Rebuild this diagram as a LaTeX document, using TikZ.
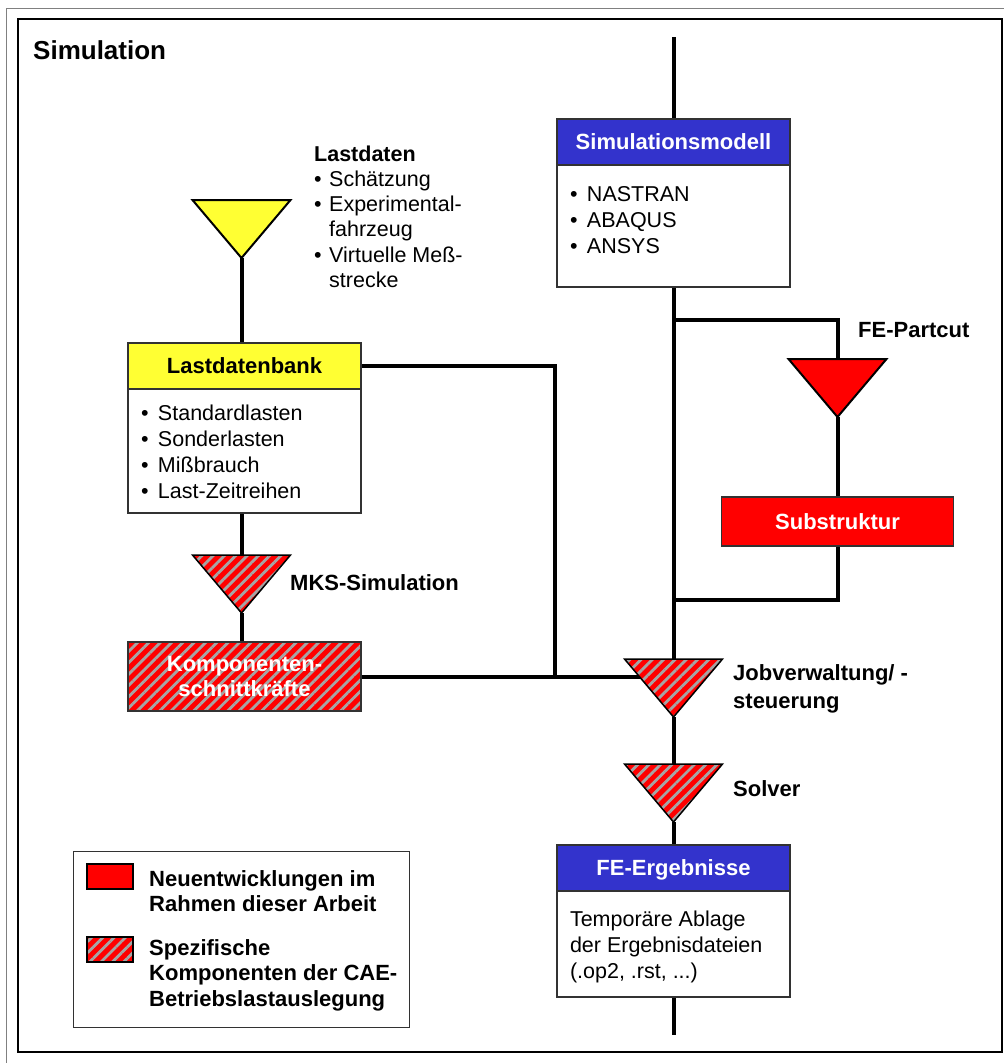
\documentclass[tikz,border=0pt]{standalone}
\usepackage{fontspec}
\setmainfont{Liberation Sans}
\usetikzlibrary{shapes.geometric,patterns.meta,backgrounds,positioning}

\definecolor{headblue}{RGB}{51,51,204}
\definecolor{lastyellow}{RGB}{255,255,51}
\definecolor{stripegray}{RGB}{165,165,165}
\definecolor{boxgray}{RGB}{50,50,50}
\definecolor{framegray}{RGB}{128,128,128}

\newcommand\txtfont{\fontsize{21.5}{26}\selectfont}
\newcommand\lblfont{\bfseries\fontsize{22}{25.5}\selectfont}
\newcommand\itm[2][17pt]{\makebox[#1][l]{\textbullet}#2}
\newcommand\bodytxt[3]{\parbox[c][#1][t]{233pt}{\leftskip=13pt\rule{0pt}{#2}#3}}

\tikzset{
  conn/.style={line width=4pt},
  plainbox/.style={draw=boxgray, line width=1.5pt, inner sep=0pt, outer sep=0pt},
  head/.style={plainbox, minimum width=233pt, minimum height=46pt, font=\lblfont, text height=15.5pt, text depth=0pt},
  body/.style={plainbox, fill=white, font=\txtfont},
  tri/.style={isosceles triangle, shape border rotate=-90, isosceles triangle stretches, minimum width=98pt, minimum height=58pt, inner sep=0pt, outer sep=0pt, draw=black, line width=2pt},
  hatch/.style={preaction={fill=red}, pattern={Lines[angle=45,distance=8pt,line width=2.8pt]}, pattern color=stripegray},
  swatch/.style={draw=black, line width=1.2pt, minimum width=46pt, minimum height=25pt, inner sep=0pt},
  lbl/.style={font=\lblfont, inner sep=0pt, align=left}
}

\begin{document}
\begin{tikzpicture}[x=1pt,y=-1pt]
\useasboundingbox (0,0) rectangle (1004,1063);
% frame
\draw[framegray, line width=1pt] (6,1063) -- (6,8) -- (1004,8);
\draw[line width=2pt] (18,19) rectangle (1002,1052);
\node[lbl, font=\bfseries\fontsize{26}{30}\selectfont, anchor=base west] (title) at (33,59.5) {Simulation};

% FE column
\coordinate (topend) at (673.5,37);
\coordinate (br1) at (673.5,320);
\coordinate (br2) at (673.5,600);
\coordinate (botend) at (673.5,1035);
\node[head, fill=headblue, text=white] (simhead) at (673.5,142) {Simulationsmodell};
\node[body, below=0pt of simhead] (simbody) {\bodytxt{122pt}{36pt}{\itm{NASTRAN}\\ \itm{ABAQUS}\\ \itm{ANSYS}}};

\node[tri, fill=red, anchor=apex] (partcut) at (837.5,417) {};
\node[lbl, anchor=base west] (partcutlbl) at (858,337.3) {FE-Partcut};
\node[plainbox, fill=red, minimum width=232pt, minimum height=49pt, text=white, font=\lblfont] (subst) at (837.5,521.5) {Substruktur};

\node[tri, hatch, line width=1.5pt, anchor=apex] (jobtri) at (673.5,717) {};
\node[lbl, anchor=north west, font=\bfseries\fontsize{22}{28}\selectfont] (joblbl) at (733,664) {Jobverwaltung/ -\\steuerung};
\node[tri, hatch, line width=1.5pt, anchor=apex] (solvtri) at (673.5,822) {};
\node[lbl, anchor=base west] (solvlbl) at (733,796.7) {Solver};

\node[head, fill=headblue, text=white] (ergebhead) at (673.5,868) {FE-Ergebnisse};
\node[body, below=0pt of ergebhead] (ergebbody) {\bodytxt{106pt}{35pt}{Temporäre Ablage\\ der Ergebnisdateien\\ (.op2, .rst, ...)}};

% load data column
\node[tri, fill=lastyellow, anchor=apex] (lasttri) at (241.5,258) {};
\node[anchor=north west, align=left, inner sep=0pt, font=\fontsize{21.5}{25.3}\selectfont] (lastlbl) at (314,145.3)
  {\textbf{Lastdaten}\\ \itm[15pt]{Schätzung}\\ \itm[15pt]{Experimental-}\\ \hspace*{15pt}fahrzeug\\ \itm[15pt]{Virtuelle Meß-}\\ \hspace*{15pt}strecke};
\node[head, fill=lastyellow] (lasthead) at (244.5,366) {Lastdatenbank};
\node[body, below=0pt of lasthead] (lastbody) {\bodytxt{124pt}{31pt}{\itm{Standardlasten}\\ \itm{Sonderlasten}\\ \itm{Mißbrauch}\\ \itm{Last-Zeitreihen}}};
\node[tri, hatch, line width=1.5pt, anchor=apex] (mkstri) at (241.5,613) {};
\node[lbl, anchor=base west] (mkslbl) at (290,590) {MKS-Simulation};
\node[plainbox, hatch, minimum width=233pt, minimum height=69pt, text=white, font=\lblfont, align=center] (komp) at (244.5,676.5) {Komponenten-\\schnittkräfte};
\coordinate (junc) at (555,676.5);

% legend
\node[plainbox, minimum width=336pt, minimum height=176pt, anchor=north west] (legend) at (73.5,851.5) {};
\node[swatch, fill=red] (legnew) at (110,876.5) {};
\node[swatch, hatch] (legspec) at (110,949.5) {};
\node[lbl, anchor=north west] (legnewlbl) at (149,870) {Neuentwicklungen im\\Rahmen dieser Arbeit};
\node[lbl, anchor=north west] (legspeclbl) at (149,939) {Spezifische\\Komponenten der CAE-\\Betriebslastauslegung};

\begin{scope}[on background layer]
  \draw[conn] (topend) -- (simhead.north);
  \draw[conn] (simbody.south) -- (jobtri.north);
  \draw[conn] (br1) -| (partcut.north);
  \draw[conn] (partcut.apex) -- (subst.north);
  \draw[conn] (subst.south) |- (br2);
  \draw[conn] (jobtri.apex) -- (solvtri.north);
  \draw[conn] (solvtri.apex) -- (ergebhead.north);
  \draw[conn] (ergebbody.south) -- (botend);
  \draw[conn] (lasttri.apex) -- (lasttri.apex |- lasthead.north);
  \draw[conn] (lasttri.apex |- lastbody.south) -- (mkstri.north);
  \draw[conn] (mkstri.apex) -- (mkstri.apex |- komp.north);
  \draw[conn] (komp.east) -- (komp.east -| jobtri.apex);
  \draw[conn] (lasthead.east) -| (junc);
\end{scope}
\end{tikzpicture}
\end{document}
